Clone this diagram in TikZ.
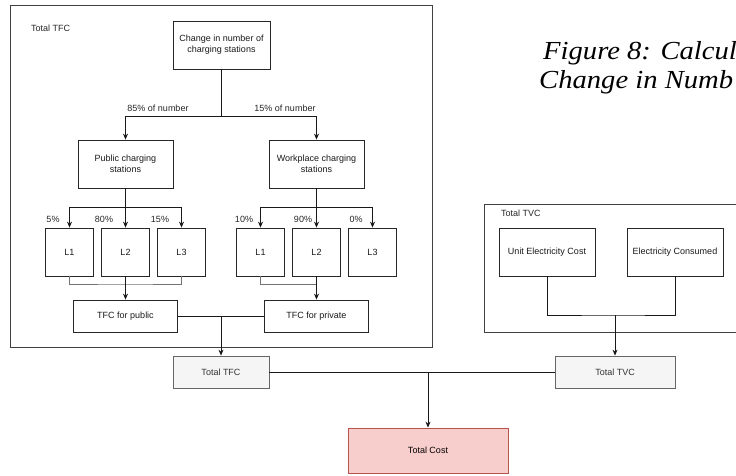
\documentclass[tikz,border=0pt]{standalone}
\usepackage{fontspec}
\setmainfont{Liberation Sans}
\newfontfamily\captionfont{Liberation Serif}
\usetikzlibrary{arrows.meta,positioning}

\definecolor{costfill}{HTML}{F8CECC}
\definecolor{costline}{HTML}{B85450}
\definecolor{totfill}{HTML}{F5F5F5}
\definecolor{totline}{HTML}{666666}
\definecolor{tottext}{HTML}{333333}

\begin{document}
\begin{tikzpicture}[x=1pt,y=-1pt,
    box/.style={rectangle, draw=black!85, line width=0.8pt, align=center,
    inner sep=1pt, text=black!90},
    lbox/.style={box, minimum width=48, minimum height=48},
    group/.style={rectangle, draw=black!75, line width=0.9pt},
    total/.style={rectangle, draw=totline, fill=totfill, text=tottext,
    line width=0.8pt, minimum width=96, minimum height=32},
    lbl/.style={text=black!85, inner sep=1pt},
    caption/.style={anchor=base west, inner sep=0pt, xscale=1.1,
    font=\captionfont\itshape\fontsize{26}{29}\selectfont},
    arr/.style={draw=black!90, line width=0.8pt, -{Stealth[length=6pt,width=5pt]}},
    ln/.style={draw=black!90, line width=0.8pt},
    mrg/.style={draw=black!55, line width=0.8pt}]
    \tikzstyle{every node}=[font=\fontsize{9}{11}\selectfont]
    \useasboundingbox (0,0) rectangle (736,475);
    \clip (0,0) rectangle (736,475);
    % TFC group
    \node[group, minimum width=422, minimum height=342] (tfcgrp) at (221,176) {};
    \node[lbl, anchor=west] (tfclbl) at (30,28) {Total TFC};
    \node[box, minimum width=97, minimum height=48] (chg) at (221.5,45)
        {Change in number of\\charging stations};
    \node[box, minimum width=95, minimum height=48] (pub) at (125.5,164)
        {Public charging\\stations};
    \node[box, minimum width=95, minimum height=48] (wrk) at (316.5,164)
        {Workplace charging\\stations};
    \coordinate (sp) at (221.5,116);
    \draw[ln] (chg) -- (sp);
    \draw[arr] (sp) -| (pub);
    \draw[arr] (sp) -| (wrk);
    \node[lbl] (pubpct) at (158,108) {85\% of number};
    \node[lbl] (wrkpct) at (285,108) {15\% of number};
    \foreach \n/\x in {1/69.5,2/125.5,3/181.5}
        \node[lbox] (pl\n) at (\x,252) {L\n};
    \foreach \n/\x in {1/260.5,2/316.5,3/372.5}
        \node[lbox] (wl\n) at (\x,252) {L\n};
    \coordinate (ps) at (125.5,207);
    \coordinate (ws) at (316.5,207);
    \draw[arr] (pub) -- (pl2);
    \draw[arr] (ps) -| (pl1);
    \draw[arr] (ps) -| (pl3);
    \draw[arr] (wrk) -- (wl2);
    \draw[arr] (ws) -| (wl1);
    \draw[arr] (ws) -| (wl3);
    \node[lbl] at (53,219) {5\%};
    \node[lbl] at (104,219) {80\%};
    \node[lbl] at (160,219) {15\%};
    \node[lbl] at (244,219) {10\%};
    \node[lbl] at (303,219) {90\%};
    \node[lbl] at (356,219) {0\%};
    \node[box, minimum width=104, minimum height=32] (tfcp) at (125.5,316) {TFC for public};
    \node[box, minimum width=104, minimum height=32] (tfcw) at (316.5,316) {TFC for private};
    \coordinate (pm) at (125.5,284);
    \coordinate (wm) at (316.5,284);
    \draw[mrg] (pl1) |- (pm) -| (pl3);
    \draw[mrg] (wl1) |- (wm);
    \draw[arr] (pl2) -- (tfcp);
    \draw[arr] (wl2) -- (tfcw);
    % TVC group
    \node[group, minimum width=280, minimum height=128] (tvcgrp) at (624,268) {};
    \node[lbl, anchor=west] (tvclbl) at (500,213) {Total TVC};
    \node[box, minimum width=96, minimum height=48] (uec) at (547,252) {Unit Electricity Cost};
    \node[box, minimum width=96, minimum height=48] (ec) at (675,252) {Electricity Consumed};
    \coordinate (vm) at (615,315);
    \draw[ln] (uec) |- (vm) -| (ec);
    % totals
    \node[total] (ttfc) at (221,372) {Total TFC};
    \node[total, minimum width=120] (ttvc) at (615,372) {Total TVC};
    \node[rectangle, draw=costline, fill=costfill, line width=0.8pt,
        minimum width=160, minimum height=45] (cost) at (428,450.5) {Total Cost};
    \coordinate (tj) at (221,316);
    \draw[ln] (tfcp) -- (tfcw);
    \draw[arr] (tj) -- (ttfc);
    \draw[arr] (vm) -- (ttvc);
    \coordinate (bj) at (428,372);
    \draw[ln] (ttfc) -- (ttvc);
    \draw[arr] (bj) -- (cost);
    % caption
    \node[caption] (cap1) at (543,59) {Figure 8: Calcul};
    \node[caption] (cap2) at (539,88) {Change in Numb};
\end{tikzpicture}
\end{document}
